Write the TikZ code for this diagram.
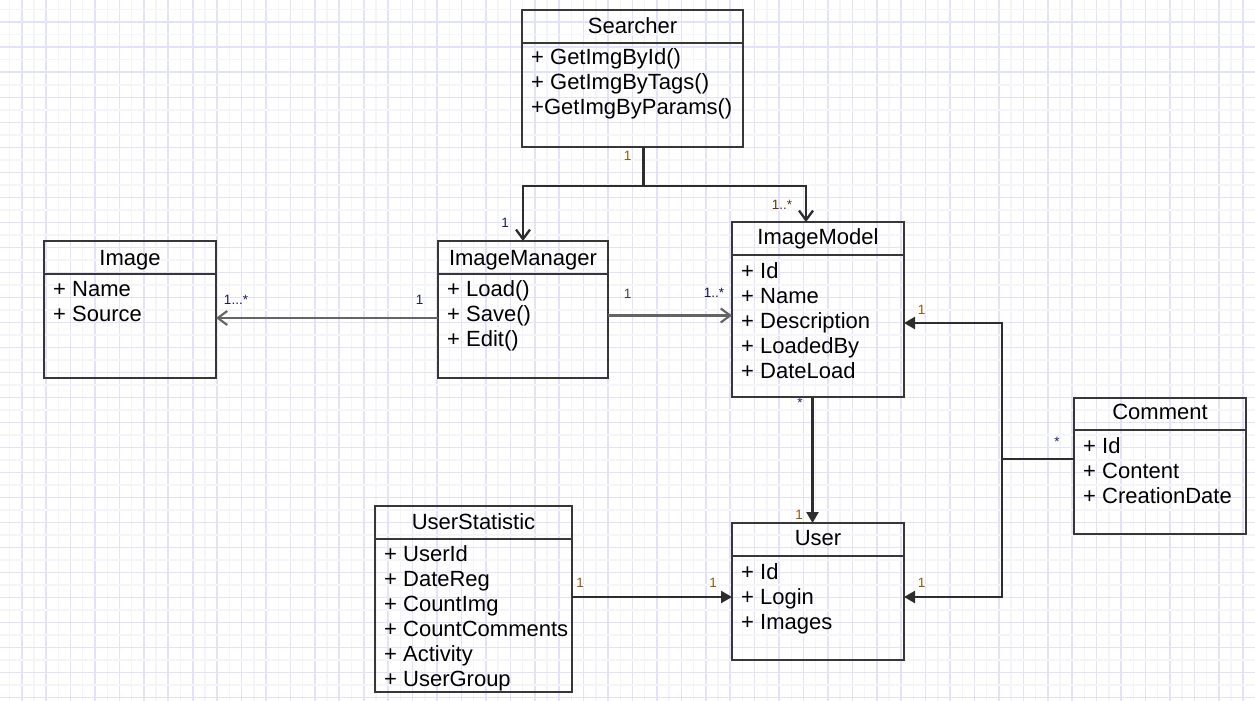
\documentclass[tikz,border=0pt]{standalone}
\usepackage{fontspec}
\setmainfont{Liberation Sans}
\usetikzlibrary{arrows.meta,calc}

\definecolor{gridmaj}{RGB}{226,226,250}
\definecolor{gridmin}{RGB}{244,244,249}
\definecolor{boxline}{RGB}{55,55,55}
\definecolor{connline}{RGB}{45,45,45}
\definecolor{lightconn}{RGB}{100,100,100}
\definecolor{multA}{RGB}{150,90,0}
\definecolor{multB}{RGB}{25,25,110}

\tikzset{
  classbox/.style={draw=boxline, line width=2.8pt, anchor=north west, inner sep=0pt, outer sep=0pt},
  divider/.style={draw=boxline, line width=2.8pt},
  classname/.style={font=\fontsize{22}{25}\selectfont, anchor=base, inner sep=0pt},
  member/.style={font=\fontsize{22}{25}\selectfont, anchor=base west, inner sep=0pt},
  conn/.style={draw=connline, line width=2.3pt},
  softconn/.style={draw=lightconn, line width=2.1pt},
  opentip/.style={-{Straight Barb[length=9.5pt,width=14pt]}},
  solidtip/.style={-{Triangle[length=11pt,width=12pt]}},
  mult/.style={font=\fontsize{13.5}{15}\selectfont, inner sep=0pt},
}

\begin{document}
\begin{tikzpicture}[x=1pt,y=-1pt]
  % page and squared paper
  \fill[white] (0,0) rectangle (1255,701);
  \useasboundingbox (0,0) rectangle (1255,701);
  \foreach \i in {0,...,51} {
    \draw[gridmin, line width=1.4pt] ({9.5+24.43*\i},0) -- ++(0,701);
    \draw[gridmaj, line width=1.6pt] ({21.7+24.43*\i},0) -- ++(0,701);
  }
  \foreach \j in {0,...,28} {
    \draw[gridmin, line width=1.4pt] (0,{9.8+25*\j}) -- ++(1255,0);
    \draw[gridmaj, line width=1.6pt] (0,{22.3+25*\j}) -- ++(1255,0);
  }

  % ---- Searcher
  \node[classbox, minimum width=221pt, minimum height=137pt] (searcher) at (522,10) {};
  \draw[divider] (searcher.west |- 0,43) -- (searcher.east |- 0,43);
  \node[classname] (searcher-t) at (632.5,33.5) {Searcher};
  \node[member] (searcher-m1) at (531,64.5) {+ GetImgById()};
  \node[member] (searcher-m2) at (531,89.5) {+ GetImgByTags()};
  \node[member] (searcher-m3) at (531,114.5) {+GetImgByParams()};

  % ---- Image
  \node[classbox, minimum width=172pt, minimum height=137pt] (img) at (44,241) {};
  \draw[divider] (img.west |- 0,274) -- (img.east |- 0,274);
  \node[classname] (img-t) at (130,265) {Image};
  \node[member] (img-m1) at (53,296) {+ Name};
  \node[member] (img-m2) at (53,321) {+ Source};

  % ---- ImageManager
  \node[classbox, minimum width=170pt, minimum height=137pt] (mgr) at (438,241) {};
  \draw[divider] (mgr.west |- 0,274) -- (mgr.east |- 0,274);
  \node[classname] (mgr-t) at (523,265) {ImageManager};
  \node[member] (mgr-m1) at (447,296) {+ Load()};
  \node[member] (mgr-m2) at (447,321) {+ Save()};
  \node[member] (mgr-m3) at (447,346) {+ Edit()};

  % ---- ImageModel
  \node[classbox, minimum width=172pt, minimum height=175pt] (model) at (732,222) {};
  \draw[divider] (model.west |- 0,255) -- (model.east |- 0,255);
  \node[classname] (model-t) at (818,244.5) {ImageModel};
  \node[member] (model-m1) at (741,278.5) {+ Id};
  \node[member] (model-m2) at (741,303.5) {+ Name};
  \node[member] (model-m3) at (741,328.5) {+ Description};
  \node[member] (model-m4) at (741,353.5) {+ LoadedBy};
  \node[member] (model-m5) at (741,378.5) {+ DateLoad};

  % ---- Comment
  \node[classbox, minimum width=172pt, minimum height=136pt] (comment) at (1074,398) {};
  \draw[divider] (comment.west |- 0,430) -- (comment.east |- 0,430);
  \node[classname] (comment-t) at (1160,419.5) {Comment};
  \node[member] (comment-m1) at (1083,453.5) {+ Id};
  \node[member] (comment-m2) at (1083,478.5) {+ Content};
  \node[member] (comment-m3) at (1083,503.5) {+ CreationDate};

  % ---- UserStatistic
  \node[classbox, minimum width=197pt, minimum height=186pt] (ustat) at (375,506) {};
  \draw[divider] (ustat.west |- 0,539) -- (ustat.east |- 0,539);
  \node[classname] (ustat-t) at (473.5,529.5) {UserStatistic};
  \node[member] (ustat-m1) at (384,561.5) {+ UserId};
  \node[member] (ustat-m2) at (384,586.5) {+ DateReg};
  \node[member] (ustat-m3) at (384,611.5) {+ CountImg};
  \node[member] (ustat-m4) at (384,636.5) {+ CountComments};
  \node[member] (ustat-m5) at (384,661.5) {+ Activity};
  \node[member] (ustat-m6) at (384,686.5) {+ UserGroup};

  % ---- User
  \node[classbox, minimum width=172pt, minimum height=137pt] (user) at (732,523) {};
  \draw[divider] (user.west |- 0,556) -- (user.east |- 0,556);
  \node[classname] (user-t) at (818,545) {User};
  \node[member] (user-m1) at (741,579.5) {+ Id};
  \node[member] (user-m2) at (741,604.5) {+ Login};
  \node[member] (user-m3) at (741,629.5) {+ Images};

  % ---- associations
  \coordinate (sfork) at (643.5,186);
  \draw[conn] ($(searcher.south)+(11,0)$) -- (sfork);
  \draw[conn, opentip] (sfork) -| (mgr.north);
  \draw[conn, opentip] (sfork) -| ($(model.north)+(-12,0)$);

  \draw[softconn, opentip] (mgr.west |- 0,318) -- (img.east |- 0,318);
  \draw[softconn, opentip] (mgr.east |- 0,315.5) -- (model.west |- 0,315.5);

  \draw[conn, solidtip] ($(model.south)+(-5.5,0)$) -- ($(user.north)+(-5.5,0)$);

  \coordinate (cfork) at (1002,459);
  \draw[conn] (comment.west |- cfork) -- (cfork);
  \draw[conn, solidtip] (cfork) |- (model.east |- 0,323);
  \draw[conn, solidtip] (cfork) |- (user.east |- 0,597);

  \draw[conn, solidtip] (ustat.east |- 0,597) -- (user.west |- 0,597);

  % ---- multiplicities
  \node[mult, text=multA] (m-s1) at (627.7,156) {1};
  \node[mult, text=multB] (m-s2) at (505,223) {1};
  \node[mult, text=multA!60!black] (m-s3) at (782,205) {1..*};
  \node[mult, text=multB] (m-i1) at (236,300) {1...*};
  \node[mult, text=multB] (m-i2) at (419.5,300) {1};
  \node[mult, text=black!75] (m-m1) at (627.5,294) {1};
  \node[mult, text=multB!70!black] (m-m2) at (714,293) {1..*};
  \node[mult, text=multA] (m-c1) at (921.7,310) {1};
  \node[mult, text=multB] (m-c2) at (1057,441.5) {*};
  \node[mult, text=multB] (m-u1) at (800,403) {*};
  \node[mult, text=multA] (m-u2) at (799,515) {1};
  \node[mult, text=multA] (m-t1) at (580,583) {1};
  \node[mult, text=multA] (m-t2) at (713,583) {1};
  \node[mult, text=multA] (m-c3) at (921.7,583) {1};
\end{tikzpicture}
\end{document}
